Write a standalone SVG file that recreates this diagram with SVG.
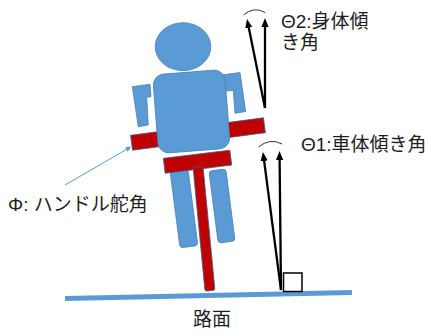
<svg xmlns="http://www.w3.org/2000/svg" width="428" height="334" viewBox="0 0 428 334">
  <style>
    .body { fill: #5b9bd5; stroke: #4a7fb5; stroke-width: 0.8; stroke-linejoin: round; }
    .frame { fill: #c00000; stroke: #3d5f8a; stroke-width: 0.8; }
    .vec { stroke: #000; stroke-width: 2.3; fill: none; marker-end: url(#headBlack); }
    .arc { stroke: #333; stroke-width: 1; fill: none; }
    .lbl { font-family: "Liberation Sans", "Noto Sans CJK JP", sans-serif; font-size: 19px; fill: #1e1e1e; }
  </style>
  <defs>
    <marker id="headBlack" markerUnits="userSpaceOnUse" markerWidth="12" markerHeight="10" refX="1" refY="0" viewBox="0 -5 12 10" orient="auto">
      <path d="M0,-3.6 L9,0 L0,3.6 z" fill="#000"/>
    </marker>
    <marker id="headBlue" markerUnits="userSpaceOnUse" markerWidth="8" markerHeight="8" refX="1" refY="0" viewBox="0 -4 8 8" orient="auto">
      <path d="M0,-2.6 L6,0 L0,2.6 z" fill="#5b9bd5"/>
    </marker>
  </defs>

  <!-- road surface -->
  <g id="road">
    <line x1="65" y1="298.5" x2="352" y2="292.5" stroke="#5b9bd5" stroke-width="5"/>
  </g>

  <!-- rider and bicycle -->
  <g id="rider">
    <rect class="body" x="175" y="170" width="18" height="77" rx="3" transform="rotate(-7.4 184 208.5)"/>
    <rect class="body" x="213.5" y="169.7" width="17" height="72.6" rx="3" transform="rotate(-7.3 222 206)"/>
    <path class="body" d="M132.3,86.7 L150,84.3 L151,96.7 L146.7,97.3 L148.3,125 L138.3,126.7 Z"/>
    <path class="body" d="M221.7,75 L240,72.5 L245.7,111.5 L235,113.3 L233.3,90.5 L224,91 Z"/>
    <ellipse class="body" cx="183" cy="46.7" rx="27.8" ry="24"/>
  </g>
  <g id="handlebar">
    <rect class="frame" x="131" y="126.5" width="134" height="15" transform="rotate(-7.5 198 134)"/>
  </g>
  <g id="torso">
    <rect class="body" x="155.5" y="72" width="72" height="79" rx="11" transform="rotate(-4.5 191.5 111.5)"/>
  </g>
  <g id="frame">
    <rect class="frame" x="164" y="154.2" width="67" height="15" transform="rotate(-7 197.5 161.7)"/>
    <rect class="frame" x="199" y="166.5" width="10" height="124.5" rx="2" transform="rotate(-5.5 204 228.7)"/>
  </g>

  <!-- ground contact marker -->
  <g id="right-angle">
    <rect x="283.5" y="273" width="18.5" height="18.5" fill="#fff" stroke="#000" stroke-width="1.5"/>
  </g>

  <!-- angle vectors and leader -->
  <g id="connectors">
    <line class="vec" x1="265" y1="108" x2="248.6" y2="26.8"/>
    <line class="vec" x1="265" y1="108" x2="265" y2="26"/>
    <path class="arc" d="M243.5,15 Q254,6 265,12.5"/>
    <line class="vec" x1="281" y1="290" x2="264" y2="159.9"/>
    <line class="vec" x1="281" y1="290" x2="279.6" y2="159"/>
    <path class="arc" d="M258.5,147 Q270,137.5 282,144"/>
    <line x1="65" y1="185" x2="127.2" y2="149" stroke="#5b9bd5" stroke-width="1" marker-end="url(#headBlue)"/>
  </g>

  <!-- labels -->
  <g id="labels">
    <text class="lbl" x="281" y="28">Θ2:身体傾</text>
    <text class="lbl" x="281" y="49">き角</text>
    <text class="lbl" x="301" y="151">Θ1:車体傾き角</text>
    <text class="lbl" x="8" y="211">Φ: ハンドル舵角</text>
    <text class="lbl" x="193" y="326">路面</text>
  </g>
</svg>
